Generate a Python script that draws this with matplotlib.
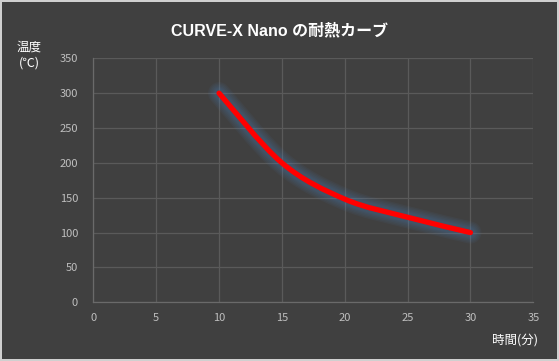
import matplotlib
matplotlib.use("Agg")
import matplotlib.pyplot as plt
from matplotlib.path import Path
from matplotlib.patches import PathPatch

plt.rcParams['font.family'] = ['Noto Sans CJK JP', 'DejaVu Sans']

# data
minutes = [10, 15, 20, 25, 30]
temps = [300, 200, 148, 122, 100]
x_ticks = [0, 5, 10, 15, 20, 25, 30, 35]
y_ticks = [0, 50, 100, 150, 200, 250, 300, 350]

bg = '#404040'
grid_c = '#5a5a5a'
tick_c = '#bfbfbf'

fig = plt.figure(figsize=(5.59, 3.61), dpi=100, facecolor=bg,
                 edgecolor='#d0d0d0', linewidth=1.5)
ax = fig.add_axes([0.167, 0.1626, 0.787, 0.6759])
ax.set_facecolor(bg)

# smoothed line like excel: bezier segments through the points
verts = [(minutes[0], temps[0])]
codes = [Path.MOVETO]
n = len(minutes)
for i in range(n - 1):
    p0 = (minutes[max(i - 1, 0)], temps[max(i - 1, 0)])
    p1 = (minutes[i], temps[i])
    p2 = (minutes[i + 1], temps[i + 1])
    p3 = (minutes[min(i + 2, n - 1)], temps[min(i + 2, n - 1)])
    c1 = (p1[0] + (p2[0] - p0[0]) / 6, p1[1] + (p2[1] - p0[1]) / 6)
    c2 = (p2[0] - (p3[0] - p1[0]) / 6, p2[1] - (p3[1] - p1[1]) / 6)
    verts += [c1, c2, p2]
    codes += [Path.CURVE4] * 3
curve = Path(verts, codes)

# soft glow behind the line
for lw in [16, 14, 12, 10, 8.5, 7]:
    ax.add_patch(PathPatch(curve, facecolor='none', edgecolor='#4f7fb5',
                           lw=lw, alpha=0.07, capstyle='round', zorder=3))
ax.add_patch(PathPatch(curve, facecolor='none', edgecolor='#ff0000',
                       lw=3.8, capstyle='round', joinstyle='round', zorder=4))

ax.set_xlim(0, 35)
ax.set_ylim(0, 350)
ax.set_xticks(x_ticks)
ax.set_yticks(y_ticks)
ax.tick_params(colors=tick_c, labelsize=8, length=0, pad=8)
ax.tick_params(axis='y', pad=11)
ax.grid(True, color=grid_c, linewidth=0.9)
ax.set_axisbelow(True)
for s in ['top', 'right']:
    ax.spines[s].set_visible(False)
for s in ['left', 'bottom']:
    ax.spines[s].set_color('#6a6a6a')
    ax.spines[s].set_linewidth(0.9)

fig.text(0.5, 0.914, 'CURVE-X Nano の耐熱カーブ', color='white',
         fontsize=11.5, fontweight='bold', ha='center', va='center',
         family=['Liberation Sans', 'Noto Sans CJK JP'])
fig.text(0.052, 0.847, '温度\n(℃)', color='white', fontsize=9,
         ha='center', va='center', linespacing=1.3)
fig.text(0.963, 0.058, '時間(分)', color='white', fontsize=9,
         ha='right', va='center')

fig.savefig('out.png', dpi=100, facecolor=bg, edgecolor='#d0d0d0')
